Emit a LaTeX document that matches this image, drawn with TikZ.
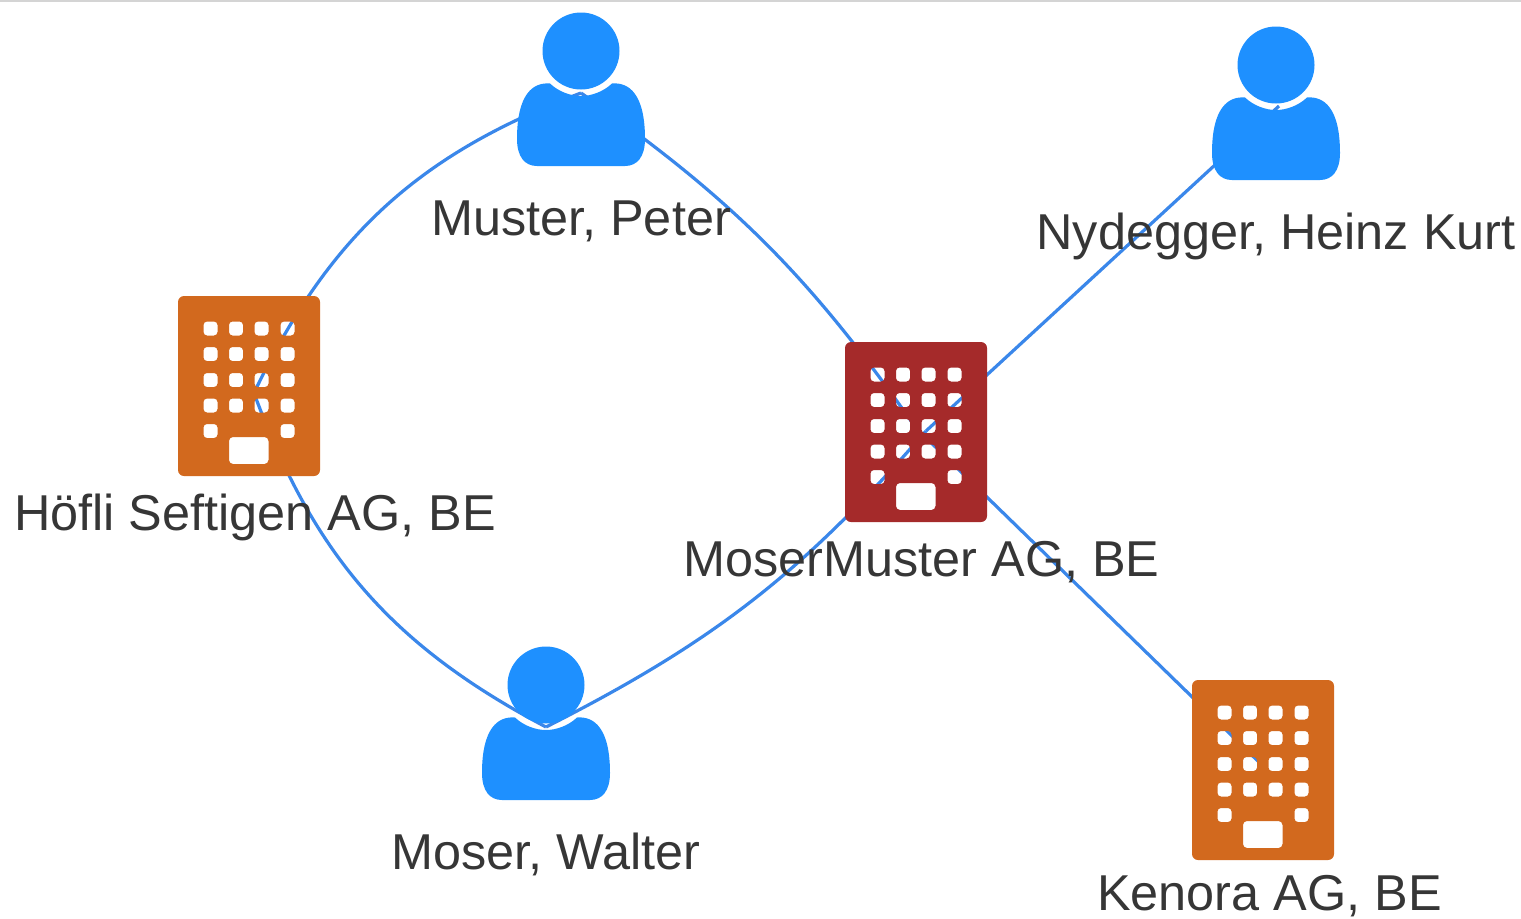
\documentclass[tikz,border=0pt]{standalone}
\usepackage{fontspec}
\setmainfont{Liberation Sans}
\definecolor{personblue}{HTML}{1E90FF}
\definecolor{edgeblue}{HTML}{3A87EA}
\definecolor{orgorange}{HTML}{D2691E}
\definecolor{orgred}{HTML}{A52A2A}
\definecolor{labelgrey}{HTML}{363636}
\definecolor{topline}{HTML}{D4D4D4}
\newcommand{\winrect}[2]{[rounded corners=2.6pt] (#1-7,#2-7) rectangle (#1+7,#2+7)}
\tikzset{
  link/.style={draw=edgeblue,line width=2.4pt},
  nodelabel/.style={anchor=base,inner sep=0pt,text=labelgrey,font=\fontsize{37.8}{38}\selectfont},
  pics/person/.style={code={
    \fill[personblue] (0,-38) circle[radius=38.5];
    \fill[personblue] (-31,-5.5) .. controls (-48,-7) and (-64,5) .. (-64,50)
      .. controls (-64,68) and (-56,77) .. (-44,77) -- (44,77)
      .. controls (56,77) and (64,68) .. (64,50)
      .. controls (64,5) and (48,-7) .. (31,-5.5)
      .. controls (22,3) and (10,7) .. (0,7)
      .. controls (-10,7) and (-22,3) .. (-31,-5.5) -- cycle;
  }},
  pics/building/.style={code={
    \fill[#1,even odd rule]
      [rounded corners=4.5pt] (-71,-90) rectangle (71,90)
      \winrect{-38.5}{-57.5} \winrect{-13}{-57.5} \winrect{12.5}{-57.5} \winrect{38.5}{-57.5}
      \winrect{-38.5}{-32} \winrect{-13}{-32} \winrect{12.5}{-32} \winrect{38.5}{-32}
      \winrect{-38.5}{-6} \winrect{-13}{-6} \winrect{12.5}{-6} \winrect{38.5}{-6}
      \winrect{-38.5}{19.5} \winrect{-13}{19.5} \winrect{12.5}{19.5} \winrect{38.5}{19.5}
      \winrect{-38.5}{45} \winrect{38.5}{45}
      [rounded corners=3pt] (-20,51) rectangle (19.5,78);
  }},
}
\begin{document}
\begin{tikzpicture}[x=0.75pt,y=-0.75pt]
\useasboundingbox (0,0) rectangle (1521,918);
\fill[topline] (0,0) rectangle (1521,1.5);
% icon centres
\coordinate (hofli) at (249,386);
\coordinate (mosermuster) at (916,432);
\coordinate (kenora) at (1263,770);
\coordinate (muster) at (581,89);
\coordinate (nydegger) at (1276,103);
\coordinate (moser) at (546,723);
% connector ends
\coordinate (hofliEnd) at (254,393);
\coordinate (mmUpper) at (916,428);
\coordinate (mmLower) at (926,431);
\coordinate (kenoraEnd) at (1263,766);
\coordinate (musterEnd) at (581,93);
\coordinate (nydeggerEnd) at (1279,106);
\coordinate (moserEnd) at (546,727);
% connectors
\draw[link] (hofliEnd) to[bend left=22] (musterEnd);
\draw[link] (musterEnd) to[bend left=10] (mmUpper);
\draw[link] (hofliEnd) to[bend right=21] (moserEnd);
\draw[link] (moserEnd) to[bend right=11] (mmLower);
\draw[link] (mmLower) -- (nydeggerEnd);
\draw[link] (mmUpper) -- (kenoraEnd);
% icons
\pic at (muster) {person};
\pic at (nydegger) {person};
\pic at (moser) {person};
\pic at (hofli) {building=orgorange};
\pic at (mosermuster) {building=orgred};
\pic at (kenora) {building=orgorange};
% labels
\node[nodelabel] (lmuster) at (581,235) {Muster, Peter};
\node[nodelabel] (lnyd) at (1276,249) {Nydegger, Heinz Kurt};
\node[nodelabel] (lhofli) at (255,530) {Höfli Seftigen AG, BE};
\node[nodelabel] (lmm) at (921.5,576.5) {MoserMuster AG, BE};
\node[nodelabel] (lmoser) at (546,869) {Moser, Walter};
\node[nodelabel] (lkenora) at (1269.5,910.5) {Kenora AG, BE};
\end{tikzpicture}
\end{document}
